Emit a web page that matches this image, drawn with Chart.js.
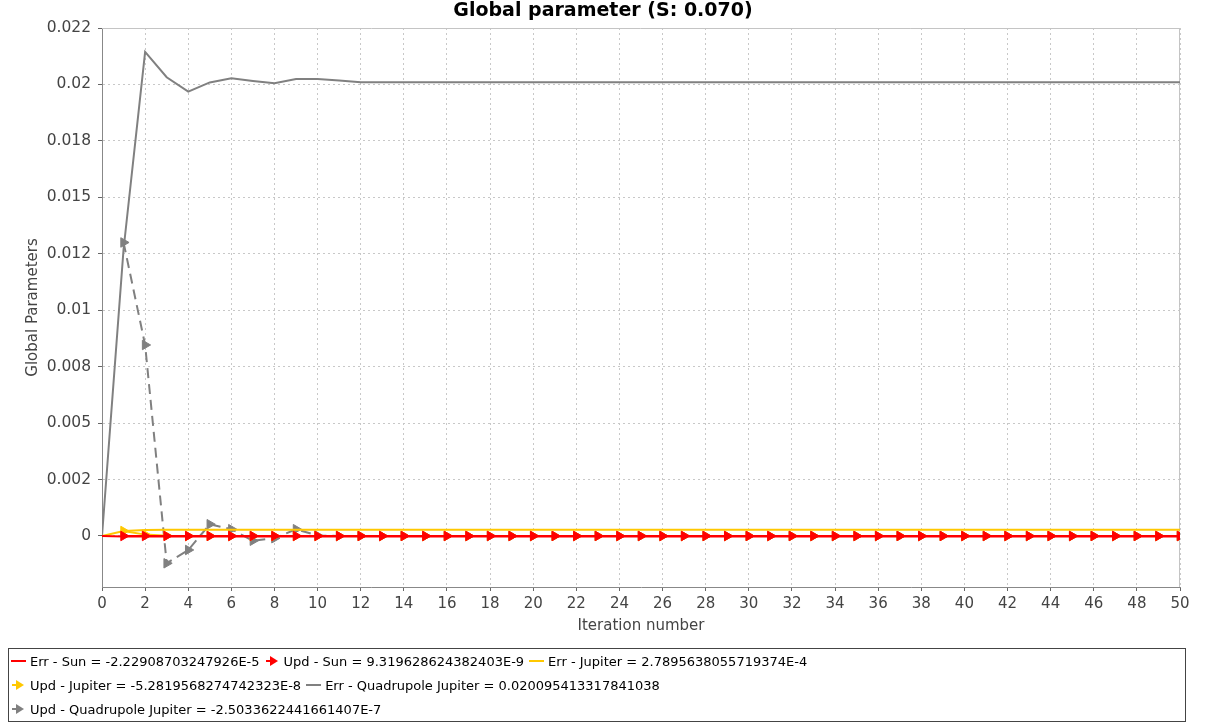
<!DOCTYPE html>
<html lang="en">
<head>
<meta charset="UTF-8">
<title>Global parameter</title>
<script src="https://cdn.jsdelivr.net/npm/chart.js"></script>
<style>
  body { margin: 0; background: #fff; }
  #wrap { position: relative; width: 1206px; height: 726px; }
  #legend {
    position: absolute; left: 8px; top: 648px; width: 1174px; height: 72px;
    border: 1px solid #444; padding-left: 2px;
    font: 13px "DejaVu Sans", sans-serif; color: #000;
  }
  .row { height: 24px; display: flex; align-items: center; white-space: nowrap; }
  .item { display: flex; align-items: center; margin-right: 5px; }
  .mk { width: 15px; height: 10px; position: relative; margin-right: 4px; }
  .mk .ln { position: absolute; left: 0; top: 4px; height: 2px; }
  .mk .tri { position: absolute; left: 5px; top: 0; width: 0; height: 0;
    border-top: 5px solid transparent; border-bottom: 5px solid transparent;
    border-left-width: 8px; border-left-style: solid; }
</style>
</head>
<body>
<div id="wrap">
  <canvas id="chart" width="1206" height="726"></canvas>
  <div id="legend"></div>
</div>

<script>
  // x values (iteration number)
  const iterations = [
    0, 1, 2, 3, 4, 5, 6, 7, 8, 9, 10,
    11, 12, 13, 14, 15, 16, 17, 18, 19, 20,
    21, 22, 23, 24, 25, 26, 27, 28, 29, 30,
    31, 32, 33, 34, 35, 36, 37, 38, 39, 40,
    41, 42, 43, 44, 45, 46, 47, 48, 49, 50
  ];

  // Err - Sun
  const errSun = [
    0, -0.00002, -0.00002, -0.00002, -0.00002, -0.00002, -0.00002, -0.00002, -0.00002, -0.00002, -0.00002,
    -0.00002, -0.00002, -0.00002, -0.00002, -0.00002, -0.00002, -0.00002, -0.00002, -0.00002, -0.00002,
    -0.00002, -0.00002, -0.00002, -0.00002, -0.00002, -0.00002, -0.00002, -0.00002, -0.00002, -0.00002,
    -0.00002, -0.00002, -0.00002, -0.00002, -0.00002, -0.00002, -0.00002, -0.00002, -0.00002, -0.00002,
    -0.00002, -0.00002, -0.00002, -0.00002, -0.00002, -0.00002, -0.00002, -0.00002, -0.00002, -0.00002
  ];

  // Upd - Sun
  const updSun = [
    null, 0, 0, 0, 0, 0, 0, 0, 0, 0, 0,
    0, 0, 0, 0, 0, 0, 0, 0, 0, 0,
    0, 0, 0, 0, 0, 0, 0, 0, 0, 0,
    0, 0, 0, 0, 0, 0, 0, 0, 0, 0,
    0, 0, 0, 0, 0, 0, 0, 0, 0, 0
  ];

  // Err - Jupiter
  const errJupiter = [
    0, 0.00022, 0.00027, 0.00028, 0.00028, 0.00028, 0.00028, 0.00028, 0.00028, 0.00028, 0.00028,
    0.00028, 0.00028, 0.00028, 0.00028, 0.00028, 0.00028, 0.00028, 0.00028, 0.00028, 0.00028,
    0.00028, 0.00028, 0.00028, 0.00028, 0.00028, 0.00028, 0.00028, 0.00028, 0.00028, 0.00028,
    0.00028, 0.00028, 0.00028, 0.00028, 0.00028, 0.00028, 0.00028, 0.00028, 0.00028, 0.00028,
    0.00028, 0.00028, 0.00028, 0.00028, 0.00028, 0.00028, 0.00028, 0.00028, 0.00028, 0.00028
  ];

  // Upd - Jupiter
  const updJupiter = [
    null, 0.00022, 0.00006, 0.00001, 0, 0, 0, 0, 0, 0, 0,
    0, 0, 0, 0, 0, 0, 0, 0, 0, 0,
    0, 0, 0, 0, 0, 0, 0, 0, 0, 0,
    0, 0, 0, 0, 0, 0, 0, 0, 0, 0,
    0, 0, 0, 0, 0, 0, 0, 0, 0, 0
  ];

  // Err - Quadrupole Jupiter
  const errQuad = [
    0, 0.0127, 0.02144, 0.02032, 0.01968, 0.02009, 0.02027, 0.02015, 0.02005, 0.02024, 0.02024,
    0.02018, 0.0201, 0.0201, 0.0201, 0.0201, 0.0201, 0.0201, 0.0201, 0.0201, 0.0201,
    0.0201, 0.0201, 0.0201, 0.0201, 0.0201, 0.0201, 0.0201, 0.0201, 0.0201, 0.0201,
    0.0201, 0.0201, 0.0201, 0.0201, 0.0201, 0.0201, 0.0201, 0.0201, 0.0201, 0.0201,
    0.0201, 0.0201, 0.0201, 0.0201, 0.0201, 0.0201, 0.0201, 0.0201, 0.0201, 0.0201
  ];

  // Upd - Quadrupole Jupiter
  const updQuad = [
    null, 0.013, 0.00846, -0.00121, -0.00062, 0.00052, 0.0003, -0.00021, -0.0001, 0.0003, 0.00002,
    0, 0, 0, 0, 0, 0, 0, 0, 0, 0,
    0, 0, 0, 0, 0, 0, 0, 0, 0, 0,
    0, 0, 0, 0, 0, 0, 0, 0, 0, 0,
    0, 0, 0, 0, 0, 0, 0, 0, 0, 0
  ];

  const seriesLabels = [
    "Err - Sun = -2.22908703247926E-5",
    "Upd - Sun = 9.319628624382403E-9",
    "Err - Jupiter = 2.7895638055719374E-4",
    "Upd - Jupiter = -5.2819568274742323E-8",
    "Err - Quadrupole Jupiter = 0.020095413317841038",
    "Upd - Quadrupole Jupiter = -2.5033622441661407E-7"
  ];

  const yTickValues = [0, 0.0025, 0.005, 0.0075, 0.01, 0.0125, 0.015, 0.0175, 0.02, 0.0225];
  const yTickLabels = ["0", "0.002", "0.005", "0.008", "0.01", "0.012", "0.015", "0.018", "0.02", "0.022"];

  const RED = "#ff0000", YELLOW = "#ffc800", GRAY = "#808080";
  const FONT = "'DejaVu Sans', sans-serif";

  const pts = vals => iterations.map((x, i) => ({ x: x, y: vals[i] }));

  const lineSet = (label, vals, color, order) => ({
    label, data: pts(vals), borderColor: color, backgroundColor: color,
    borderWidth: 2, pointRadius: 0, pointHoverRadius: 0, tension: 0, order, isArrow: false
  });
  const arrowSet = (label, vals, color, order, dash) => ({
    label, data: pts(vals), borderColor: color, backgroundColor: color,
    borderWidth: 2, borderDash: dash || [], pointStyle: "triangle", rotation: 90,
    pointRadius: 5.5, pointHoverRadius: 5.5, pointBorderWidth: 1, tension: 0, order, isArrow: true
  });

  const datasets = [
    lineSet(seriesLabels[0], errSun, RED, 1),
    arrowSet(seriesLabels[1], updSun, RED, 0),
    lineSet(seriesLabels[2], errJupiter, YELLOW, 3),
    arrowSet(seriesLabels[3], updJupiter, YELLOW, 2),
    lineSet(seriesLabels[4], errQuad, GRAY, 5),
    arrowSet(seriesLabels[5], updQuad, GRAY, 4, [10, 6])
  ];

  // light plot outline (top and right edges)
  const outline = {
    id: "outline",
    beforeDatasetsDraw(chart) {
      const { ctx, chartArea: a } = chart;
      ctx.save();
      ctx.strokeStyle = "#c4c4c4";
      ctx.lineWidth = 1;
      ctx.beginPath();
      ctx.moveTo(a.left, a.top + 0.5);
      ctx.lineTo(a.right - 0.5, a.top + 0.5);
      ctx.lineTo(a.right - 0.5, a.bottom);
      ctx.stroke();
      ctx.restore();
    }
  };

  const ctx = document.getElementById("chart").getContext("2d");
  const chart = new Chart(ctx, {
    type: "line",
    data: { datasets },
    plugins: [outline],
    options: {
      responsive: false,
      animation: false,
      layout: { padding: { left: 0, right: 0, top: 0, bottom: 78 } },
      plugins: {
        legend: { display: false },
        tooltip: { enabled: false },
        title: {
          display: true,
          text: "Global parameter (S: 0.070)",
          color: "#000",
          font: { family: FONT, size: 19, weight: "bold" },
          padding: { top: 0, bottom: 5.2 }
        }
      },
      scales: {
        x: {
          type: "linear",
          min: 0, max: 50,
          afterFit: s => { s.height = 61; },
          ticks: { stepSize: 2, color: "#444", font: { family: FONT, size: 15 }, padding: 4, maxRotation: 0 },
          grid: { color: "#c8c8c8", tickColor: "#666", tickLength: 4, lineWidth: 1 },
          border: { color: "#888", width: 1, dash: [2, 3] },
          title: {
            display: true, text: "Iteration number", color: "#444",
            font: { family: FONT, size: 15 }, padding: { top: 0, bottom: 13 }
          }
        },
        y: {
          min: -0.00226, max: 0.0225,
          afterFit: s => { s.width = 102; },
          afterBuildTicks: s => { s.ticks = yTickValues.map(v => ({ value: v })); },
          ticks: {
            color: "#444", font: { family: FONT, size: 15.5 }, padding: 7,
            callback: value => {
              const i = yTickValues.findIndex(v => Math.abs(v - value) < 1e-9);
              return i >= 0 ? yTickLabels[i] : "";
            }
          },
          grid: { color: "#c8c8c8", tickColor: "#666", tickLength: 4, lineWidth: 1 },
          border: { color: "#888", width: 1, dash: [2, 3] },
          title: {
            display: true, text: "Global Parameters", color: "#444",
            font: { family: FONT, size: 15 }, padding: { top: 24, bottom: 0 }
          }
        },
        // empty right-hand margin so the title centres on the whole canvas
        margin: {
          position: "right",
          afterFit: s => { s.width = 26; },
          ticks: { display: false },
          grid: { display: false, drawOnChartArea: false },
          border: { display: false }
        }
      }
    }
  });

  // legend box, laid out in three rows like the original
  const legendRows = [[0, 1, 2], [3, 4], [5]];
  const legendEl = document.getElementById("legend");
  legendRows.forEach(row => {
    const rowEl = document.createElement("div");
    rowEl.className = "row";
    row.forEach(i => {
      const ds = datasets[i];
      const item = document.createElement("div");
      item.className = "item";
      const mk = document.createElement("span");
      mk.className = "mk";
      if (ds.isArrow) {
        mk.innerHTML = '<span class="ln" style="left:1px;width:6px;background:' + ds.borderColor + '"></span>' +
                       '<span class="tri" style="border-left-color:' + ds.borderColor + '"></span>';
      } else {
        mk.innerHTML = '<span class="ln" style="width:15px;background:' + ds.borderColor + '"></span>';
      }
      const txt = document.createElement("span");
      txt.textContent = ds.label;
      item.appendChild(mk);
      item.appendChild(txt);
      rowEl.appendChild(item);
    });
    legendEl.appendChild(rowEl);
  });
</script>
</body>
</html>
